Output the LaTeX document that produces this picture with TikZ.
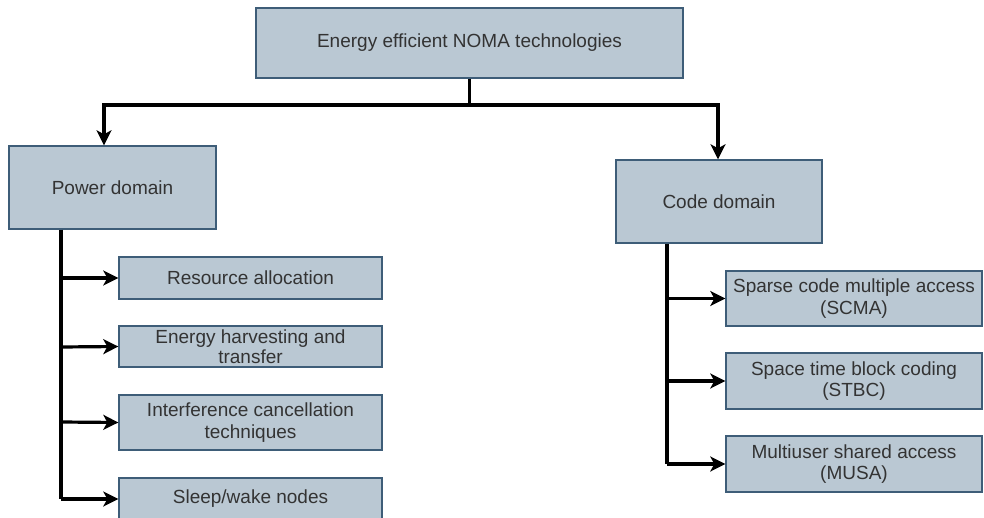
\documentclass[tikz,border=0pt]{standalone}
\usepackage{fontspec}
\setmainfont{Liberation Sans}
\usetikzlibrary{arrows.meta}
\definecolor{boxfill}{HTML}{BAC8D3}
\definecolor{boxline}{HTML}{3E5D78}
\definecolor{txt}{HTML}{333333}
\begin{document}
\begin{tikzpicture}[x=1pt,y=-1pt,
  box/.style={draw=boxline,fill=boxfill,line width=1.4pt,inner sep=0pt,
    text=txt,font=\fontsize{19}{21.5}\selectfont,align=center},
  link/.style={line width=3.2pt,black},
  arr/.style={link,-{Stealth[length=15pt,width=15pt,inset=4pt]}}]
\useasboundingbox (0,0) rectangle (984,518);
\clip (0,0) rectangle (984,518);
% top level
\node[box,minimum width=427pt,minimum height=70pt] (root) at (469.5,43) {Energy efficient NOMA technologies};
% domains
\node[box,minimum width=207pt,minimum height=83pt] (pd) at (112.5,187.5) {Power domain};
\node[box,minimum width=206pt,minimum height=83pt] (cd) at (719,201.5) {Code domain};
% power domain techniques
\node[box,minimum width=263pt,minimum height=42pt] (ra) at (250.5,278) {Resource allocation};
\node[box,minimum width=263pt,minimum height=41pt] (eh) at (250.5,346.5) {Energy harvesting and\\[-1pt]transfer};
\node[box,minimum width=263pt,minimum height=55pt] (ic) at (250.5,422.5) {Interference cancellation\\techniques};
\node[box,minimum width=263pt,minimum height=42pt] (sw) at (250.5,499) {Sleep/wake nodes};
% code domain techniques
\node[box,minimum width=256pt,minimum height=55pt] (scma) at (854,298.5) {Sparse code multiple access\\(SCMA)};
\node[box,minimum width=256pt,minimum height=56pt] (stbc) at (854,381) {Space time block coding\\(STBC)};
\node[box,minimum width=256pt,minimum height=56pt] (musa) at (854,464) {Multiuser shared access\\(MUSA)};
% root to domains
\coordinate (split) at (root.south |- 0,105);
\draw[link] (root.south) -- (split);
\draw[arr] (split) -| (pd.north -| 104,0);
\draw[arr] (split) -| (cd.north -| 718,0);
% power domain branches
\coordinate (pt) at (pd.south -| 61,0);
\draw[link] (pt) -- (61,499);
\draw[arr] (61,278) -- (ra.west);
\draw[arr] (61,347) -- (eh.west);
\draw[arr] (61,422) -- (ic.west);
\draw[arr] (61,499) -- (sw.west);
% code domain branches
\coordinate (ct) at (cd.south -| 667,0);
\draw[link] (ct) -- (667,464);
\draw[arr] (667,298.5) -- (scma.west);
\draw[arr] (667,381) -- (stbc.west);
\draw[arr] (667,464) -- (musa.west);
\end{tikzpicture}
\end{document}
